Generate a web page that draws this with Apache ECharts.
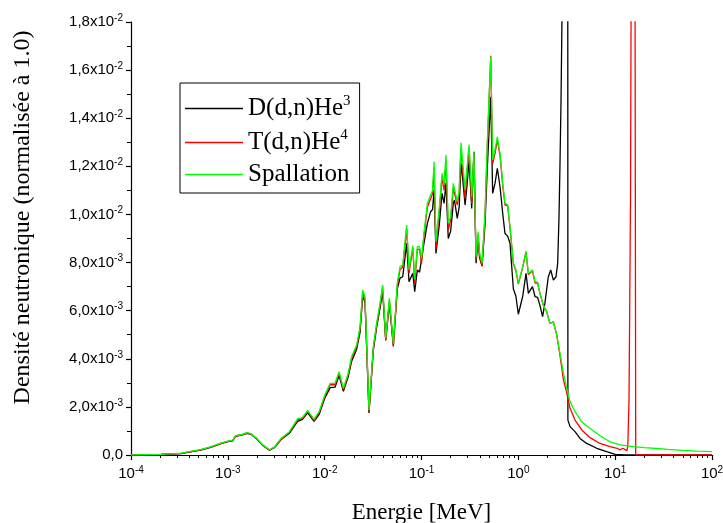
<!DOCTYPE html>
<html>
<head>
<meta charset="utf-8">
<script src="https://cdn.jsdelivr.net/npm/echarts@6/dist/echarts.min.js"></script>
<style>html,body{margin:0;padding:0;background:#fff;}#c{width:723px;height:523px;}</style>
</head>
<body>
<div id="c"></div>
<script>
// Energies (MeV) of the shared grid below 1.6 MeV
const energyMain = [1.00e-4,2.04e-4,3.31e-4,3.98e-4,5.25e-4,6.76e-4,8.51e-4,1.00e-3,1.12e-3,1.20e-3,
1.41e-3,1.58e-3,1.74e-3,1.95e-3,2.29e-3,2.69e-3,3.02e-3,3.55e-3,4.32e-3,5.25e-3,
5.89e-3,6.68e-3,7.76e-3,8.81e-3,1.00e-2,1.14e-2,1.28e-2,1.41e-2,1.56e-2,1.75e-2,
1.90e-2,2.14e-2,2.32e-2,2.47e-2,2.61e-2,2.87e-2,3.18e-2,3.44e-2,3.73e-2,3.97e-2,
4.27e-2,4.66e-2,5.12e-2,5.62e-2,6.00e-2,6.40e-2,7.03e-2,7.43e-2,8.13e-2,8.51e-2,
9.06e-2,9.55e-2,0.100,0.106,0.115,0.124,0.130,0.135,0.141,0.153,
0.163,0.171,0.179,0.189,0.200,0.213,0.219,0.234,0.245,0.256,
0.266,0.282,0.295,0.310,0.330,0.348,0.366,0.384,0.398,0.422,
0.453,0.479,0.519,0.543,0.575,0.607,0.647,0.690,0.728,0.776,
0.820,0.889,0.944,1.00,1.04,1.11,1.20,1.27,1.40,1.49,1.58];

// Values in units of 1e-3
const ddMain = [0.0,0.02,0.06,0.12,0.20,0.33,0.47,0.56,0.59,0.77,
0.84,0.90,0.86,0.70,0.40,0.20,0.30,0.64,0.90,1.40,
1.48,1.75,1.40,1.70,2.35,2.80,2.82,3.30,2.65,3.25,
3.90,4.40,5.10,6.60,6.35,1.75,4.35,5.30,6.10,6.80,
4.78,6.30,4.55,6.90,7.35,7.41,8.80,7.20,7.55,6.79,
7.69,7.60,7.55,8.80,9.63,10.11,10.2,11.01,8.38,9.6,
10.88,10.46,11.3,9.0,9.3,10.46,10.6,9.84,10.3,12.12,
11.5,10.39,11.2,12.26,10.25,12.61,7.97,9.0,8.2,7.85,
9.6,12.0,14.89,10.88,11.3,11.92,11.15,10.04,9.21,9.10,
8.8,6.9,6.6,5.85,5.85,6.6,7.55,6.72,7.0,6.58,6.55];
const dtMain = [0.0,0.03,0.07,0.13,0.21,0.34,0.48,0.57,0.60,0.79,
0.85,0.92,0.87,0.71,0.41,0.21,0.32,0.67,0.94,1.46,
1.52,1.82,1.44,1.78,2.43,2.92,2.92,3.40,2.72,3.34,
4.02,4.50,5.25,6.75,6.48,1.80,4.44,5.40,6.22,6.98,
4.75,6.42,4.50,7.02,7.72,7.80,9.40,7.55,8.60,7.10,
8.55,8.55,7.95,9.10,10.30,10.65,10.85,11.95,8.55,10.15,
11.55,11.0,12.25,9.35,9.75,11.1,11.1,10.4,10.9,12.75,
12.7,10.65,11.75,12.75,10.45,12.5,8.10,9.15,8.3,7.85,
9.95,12.9,16.6,12.10,12.55,13.1,12.45,11.2,10.4,10.35,
9.45,7.95,7.65,7.10,7.10,7.80,8.45,7.50,7.65,7.15,7.15];
const spMain = [0.0,0.03,0.08,0.14,0.22,0.35,0.49,0.58,0.61,0.80,
0.86,0.93,0.88,0.72,0.42,0.22,0.33,0.69,0.97,1.50,
1.55,1.86,1.48,1.83,2.48,2.98,2.98,3.46,2.77,3.40,
4.09,4.57,5.33,6.86,6.58,1.87,4.50,5.47,6.30,7.07,
4.85,6.51,4.64,7.14,7.83,7.90,9.56,7.69,8.70,7.30,
8.66,8.66,8.17,9.21,10.46,10.81,11.0,12.19,8.87,10.32,
11.71,11.22,12.47,9.63,9.90,11.29,11.25,10.53,11.0,12.98,
12.9,11.01,11.9,12.91,10.74,12.61,8.24,9.28,8.4,7.97,
10.04,13.09,16.55,12.26,12.7,13.23,12.54,11.29,10.46,10.4,
9.49,7.97,7.7,7.14,7.14,7.83,8.45,7.55,7.69,7.20,7.20];

// High-energy parts (MeV, values in 1e-3)
const ddTailE = [1.67,1.78,1.88,2.04,2.16,2.30,2.45,2.55,2.63,2.69,2.76,2.83,2.95,3.09,3.22,3.25,3.42,3.85,4.34,5.08,6.46,8.17,10.0,12.6,100];
const ddTailV = [6.23,5.75,6.30,7.41,7.69,7.27,7.41,7.97,9.90,11.98,14.75,18.5,30,50,60,1.45,1.18,0.97,0.69,0.48,0.28,0.14,0.03,0.0,0.0];
const dtTailE = [1.67,1.81,1.96,2.12,2.30,2.49,2.69,2.92,3.16,3.42,3.85,4.52,5.50,6.97,8.85,10.5,11.2,12.0,13.2,13.5,13.9,14.4,14.9,15.9,16.3,100];
const dtTailV = [6.72,6.23,5.96,5.47,5.54,4.99,4.15,3.13,2.58,1.94,1.45,1.04,0.72,0.48,0.35,0.28,0.21,0.28,0.18,0.35,2.3,10.6,30,30,0.0,0.0];
const spTailE = [1.67,1.81,1.96,2.12,2.30,2.49,2.69,2.92,3.16,3.42,3.85,4.52,5.50,6.97,8.85,11.2,15.5,20.0,26.9,35.0,50.1,70.0,100];
const spTailV = [6.72,6.23,5.96,5.47,5.54,4.99,4.23,3.40,2.77,2.22,1.80,1.38,1.10,0.80,0.55,0.42,0.35,0.31,0.27,0.23,0.19,0.16,0.14];

const xMajorTicks = [1e-4,1e-3,1e-2,1e-1,1,10,100];
const xTickExp = ['-4','-3','-2','-1','0','1','2'];
const seriesNames = ['D(d,n)He3','T(d,n)He4','Spallation'];
const colors = ['#000000','#ff0000','#00ff00'];

function pairs(e1, v1, e2, v2) {
  const out = [];
  for (let i = 0; i < e1.length; i++) out.push([e1[i], v1[i]]);
  for (let i = 0; i < e2.length; i++) out.push([e2[i], v2[i]]);
  return out;
}
const xMinor = [];
for (let n = -4; n < 2; n++) for (let m = 2; m <= 9; m++) xMinor.push(+(m * Math.pow(10, n)).toPrecision(3));

const chart = echarts.init(document.getElementById('c'), null, {renderer: 'canvas'});
const sans = 'Liberation Sans, Arial, sans-serif';
const serif = 'Liberation Serif, Times New Roman, serif';

function yFmt(v) {
  if (v === 0) return '{a|0,0}';
  const real = v * 1e-3;
  const ex = Math.floor(Math.log10(real) + 1e-9);
  const m = (real / Math.pow(10, ex)).toFixed(1).replace('.', ',');
  return '{a|' + m + 'x10}{s|' + ex + '}';
}

const option = {
  animation: false,
  backgroundColor: '#fff',
  grid: {left: 131, right: 11, top: 22, bottom: 68, containLabel: false, outerBoundsMode: 'none'},
  legend: {
    left: 180, top: 83, orient: 'vertical',
    data: seriesNames,
    selectedMode: false,
    icon: 'rect',
    borderColor: '#000', borderWidth: 1, borderRadius: 0,
    padding: [11, 9, 6, 5],
    itemGap: 7, itemWidth: 58, itemHeight: 1.6, itemTextGap: 7,
    formatter: function (name) {
      const last = name.slice(-1);
      if (/[0-9]/.test(last)) return '{a|' + name.slice(0, -1) + '}{s|' + last + '}';
      return '{a|' + name + '}';
    },
    textStyle: {
      color: '#000', fontFamily: serif, fontSize: 25,
      rich: {
        a: {fontFamily: serif, fontSize: 25, color: '#000'},
        s: {fontFamily: serif, fontSize: 15, color: '#000', padding: [0, 0, 14, 0]}
      }
    }
  },
  xAxis: [{
    type: 'log', logBase: 10, min: 1e-4, max: 100,
    name: 'Energie [MeV]', nameLocation: 'middle', nameGap: 46,
    nameTextStyle: {fontFamily: serif, fontSize: 23, color: '#000'},
    axisLine: {show: true, lineStyle: {color: '#000', width: 1.2}},
    axisTick: {show: true, length: 5, inside: false, lineStyle: {color: '#000', width: 1.2}, customValues: xMajorTicks},
    splitLine: {show: false},
    axisLabel: {
      margin: 10, color: '#000', fontFamily: sans, fontSize: 15,
      customValues: xMajorTicks,
      formatter: function (v) {
        const ex = Math.round(Math.log10(v));
        return '{a|10}{s|' + xTickExp[ex + 4] + '}';
      },
      rich: {
        a: {fontFamily: sans, fontSize: 15, color: '#000'},
        s: {fontFamily: sans, fontSize: 10, color: '#000', padding: [0, 0, 8, 0]}
      }
    }
  }, {
    type: 'log', logBase: 10, min: 1e-4, max: 100, gridIndex: 0, position: 'bottom',
    axisLine: {show: false},
    axisLabel: {show: false},
    splitLine: {show: false},
    axisTick: {show: true, length: 3, inside: false, lineStyle: {color: '#000', width: 1}, customValues: xMinor}
  }],
  yAxis: {
    type: 'value', min: 0, max: 18, interval: 2,
    name: 'Densité neutronique (normalisée à 1.0)', nameLocation: 'middle', nameGap: 96,
    nameTextStyle: {fontFamily: serif, fontSize: 24, color: '#000', padding: [0, 0, 0, 42]},
    axisLine: {show: true, lineStyle: {color: '#000', width: 1.2}},
    axisTick: {show: true, length: 5, lineStyle: {color: '#000', width: 1.2}},
    minorTick: {show: true, splitNumber: 2, length: 4, lineStyle: {color: '#000', width: 1}},
    splitLine: {show: false},
    minorSplitLine: {show: false},
    axisLabel: {
      margin: 8, color: '#000', fontFamily: sans, fontSize: 15,
      formatter: yFmt,
      rich: {
        a: {fontFamily: sans, fontSize: 15, color: '#000'},
        s: {fontFamily: sans, fontSize: 10, color: '#000', padding: [0, 0, 8, 0]}
      }
    }
  },
  series: [
    {name: seriesNames[0], type: 'line', xAxisIndex: 0, data: pairs(energyMain, ddMain, ddTailE, ddTailV)},
    {name: seriesNames[1], type: 'line', xAxisIndex: 0, data: pairs(energyMain, dtMain, dtTailE, dtTailV)},
    {name: seriesNames[2], type: 'line', xAxisIndex: 0, data: pairs(energyMain, spMain, spTailE, spTailV)}
  ].map(function (s, i) {
    s.symbol = 'none'; s.showSymbol = false; s.smooth = false; s.clip = true;
    s.color = colors[i];
    s.lineStyle = {color: colors[i], width: 1.3};
    s.emphasis = {disabled: true};
    return s;
  })
};
chart.setOption(option);
</script>
</body>
</html>
